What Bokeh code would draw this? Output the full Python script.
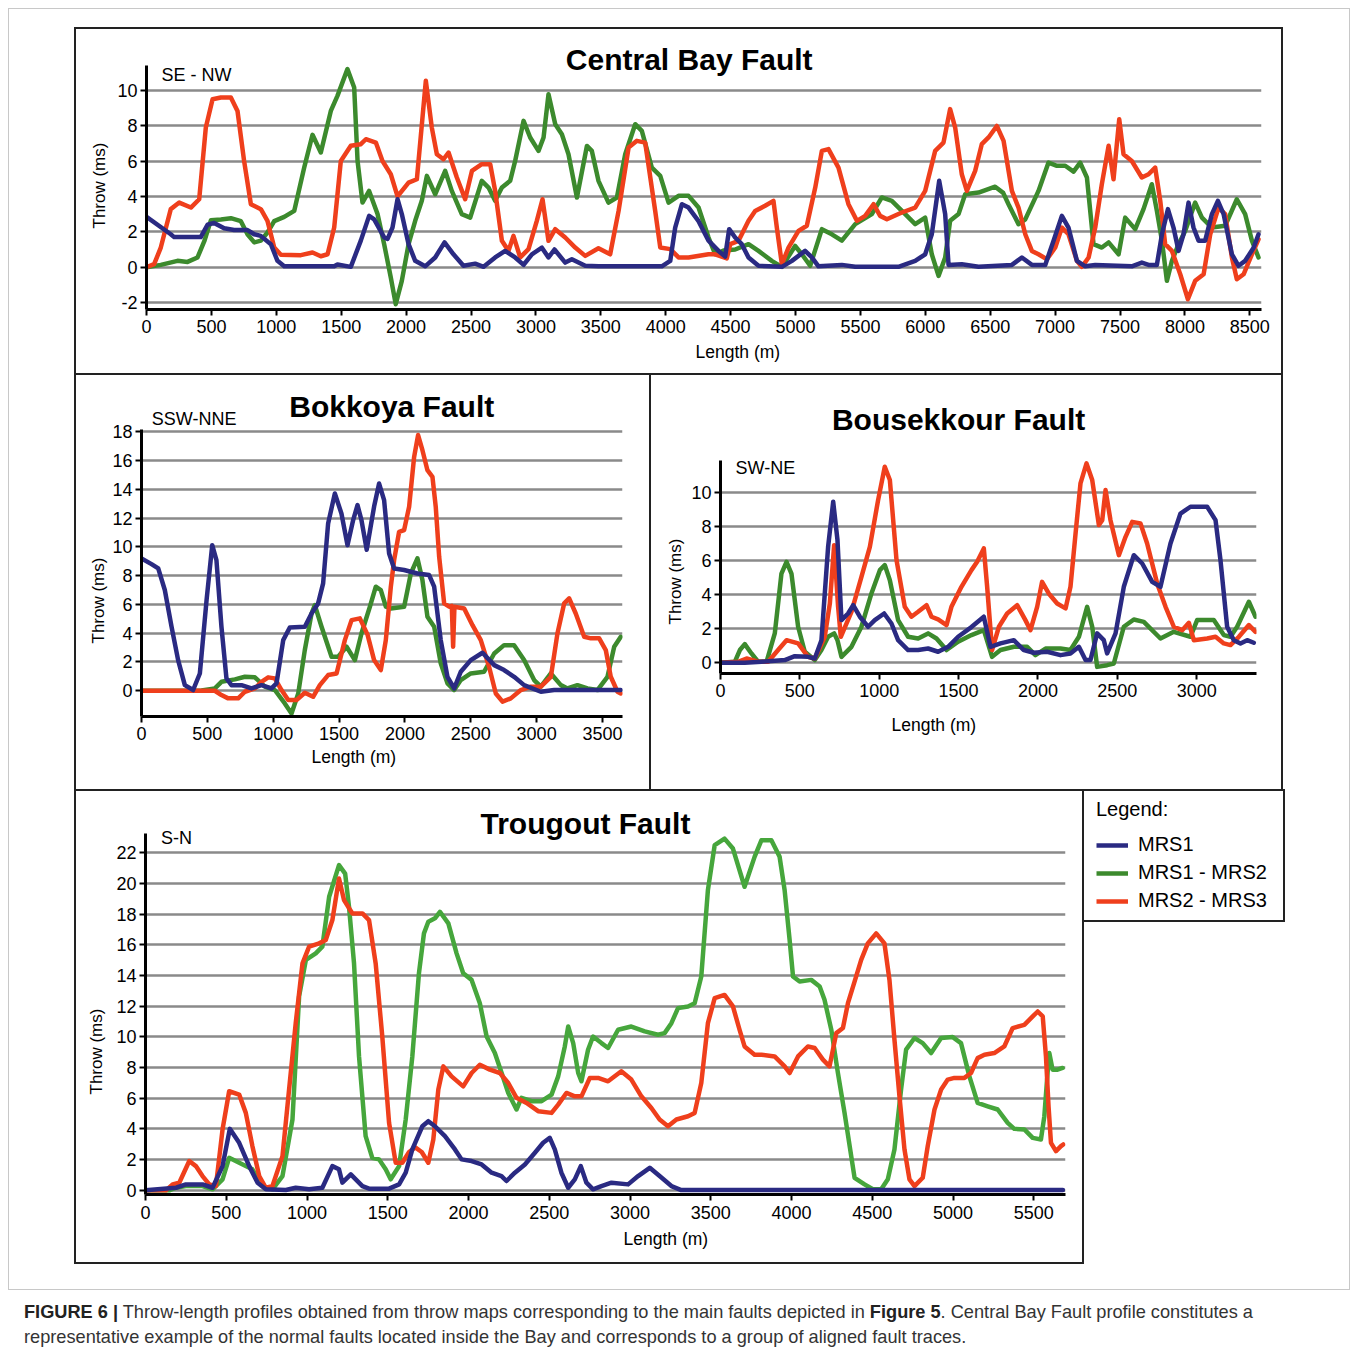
import math
from bokeh.plotting import figure
from bokeh.models import Range1d, Label, Legend, LegendItem, Spacer, Div, Title
from bokeh.layouts import column, row
from bokeh.embed import file_html
from bokeh.resources import INLINE

# ---------------- data ----------------
series_names = ["MRS1", "MRS1 - MRS2", "MRS2 - MRS3"]

# Central Bay Fault (SE - NW)
cb_mrs1_x = [0,187,213,418,470,521,598,675,778,830,880,958,1009,1061,1446,1471,1574,1651,1715,1754,1831,1857,1895,1934,1967,2019,2070,2147,2224,2296,2365,2442,2532,2597,2686,2763,2840,2905,2969,3046,3097,3143,3226,3277,3380,3482,3970,4035,4073,4125,4176,4253,4330,4407,4458,4489,4535,4586,4638,4715,4895,4972,5074,5126,5177,5357,5460,5793,5922,5999,6050,6107,6153,6179,6281,6410,6667,6744,6821,6924,6988,7052,7103,7168,7232,7309,7591,7668,7720,7784,7823,7869,7912,7951,7989,8028,8066,8105,8156,8208,8254,8298,8362,8413,8464,8529,8567]
cb_mrs1_y = [2.84,1.86,1.7,1.7,2.4,2.5,2.2,2.1,2.1,1.86,1.77,1.3,0.36,0.05,0.05,0.15,0.02,1.5,2.9,2.7,1.68,1.6,2.24,3.84,3.0,1.3,0.36,0.05,0.55,1.4,0.73,0.08,0.2,0.02,0.55,0.92,0.55,0.13,0.73,1.1,0.55,1.0,0.26,0.45,0.08,0.05,0.05,0.36,2.24,3.56,3.37,2.6,1.5,0.92,0.6,2.15,1.68,1.3,0.55,0.08,0.02,0.36,0.92,0.55,0.05,0.13,0.02,0.02,0.36,0.73,1.86,4.88,3.0,0.13,0.17,0.02,0.13,0.55,0.13,0.13,1.5,2.9,2.24,0.36,0.05,0.13,0.05,0.26,0.13,0.13,1.86,3.28,2.24,0.92,1.86,3.65,2.24,1.5,1.5,3.0,3.75,3.0,0.73,0.08,0.36,1.1,1.86]
cb_mrs12_x = [0,110,239,316,393,447,496,573,650,727,778,830,881,932,984,1061,1138,1215,1279,1343,1420,1471,1548,1600,1626,1664,1715,1780,1831,1882,1920,1967,2019,2070,2121,2160,2224,2301,2352,2429,2494,2583,2635,2686,2738,2802,2840,2905,2956,3020,3059,3097,3149,3200,3251,3316,3393,3431,3482,3559,3624,3688,3765,3816,3893,3958,4022,4099,4176,4253,4330,4381,4450,4535,4638,4715,4817,4895,4997,5049,5113,5203,5280,5357,5460,5588,5665,5742,5845,5922,5999,6050,6102,6153,6191,6256,6307,6410,6538,6600,6641,6718,6770,6872,6949,7014,7078,7142,7193,7245,7296,7360,7412,7489,7540,7617,7681,7745,7784,7823,7861,7900,7951,8002,8079,8131,8208,8310,8400,8464,8516,8567]
cb_mrs12_y = [0,0.13,0.36,0.3,0.55,1.5,2.65,2.7,2.77,2.6,1.86,1.4,1.5,1.96,2.6,2.84,3.18,5.63,7.48,6.48,8.83,9.68,11.19,10.15,6.0,3.65,4.31,3.0,1.3,-0.58,-2.09,-0.77,1.3,2.62,3.75,5.16,4.12,5.44,4.31,3.0,2.8,4.88,4.5,3.75,4.5,4.88,6.0,8.27,7.33,6.57,7.33,9.77,8.08,7.51,6.38,3.94,6.85,6.57,4.88,3.65,3.94,6.38,8.08,7.7,5.63,5.16,3.65,4.03,4.03,3.37,1.68,0.73,0.95,1.0,1.3,0.92,0.36,0.02,1.2,0.73,0.08,2.15,1.86,1.5,2.43,3.0,3.94,3.75,3.0,2.43,2.8,0.73,-0.49,0.55,2.62,3.0,4.12,4.22,4.55,4.2,3.56,2.43,2.7,4.31,5.91,5.73,5.73,5.4,5.91,5.07,1.3,1.11,1.4,0.73,2.8,2.15,3.28,4.69,3.18,1.5,-0.77,0.36,1.3,2.05,3.65,2.8,2.24,2.34,3.84,3.0,1.5,0.55]
cb_mrs23_x = [0,59,110,187,252,342,406,457,509,573,650,701,752,804,881,932,984,1035,1189,1279,1343,1395,1446,1497,1574,1651,1690,1767,1818,1882,1934,2019,2083,2152,2198,2237,2288,2327,2391,2455,2507,2583,2648,2686,2738,2789,2827,2879,2943,3007,3051,3097,3149,3226,3303,3380,3482,3572,3637,3714,3778,3842,3919,3958,4035,4099,4176,4330,4381,4471,4497,4561,4638,4689,4766,4830,4856,4895,4946,5023,5087,5152,5203,5254,5331,5408,5473,5537,5601,5652,5704,5819,5922,5999,6076,6140,6191,6230,6281,6320,6384,6435,6487,6551,6603,6667,6718,6770,6821,6872,6937,7001,7052,7103,7168,7206,7258,7309,7360,7412,7450,7468,7494,7527,7591,7668,7720,7771,7810,7848,7900,7964,8023,8079,8144,8195,8259,8310,8362,8400,8452,8516,8567]
cb_mrs23_y = [0,0.17,1.11,3.28,3.65,3.37,3.84,7.89,9.49,9.59,9.59,8.83,6.0,3.56,3.28,2.62,1.11,0.7,0.68,0.83,0.62,0.73,2.24,6.0,6.86,6.95,7.23,7.04,6.0,5.25,4.0,4.78,4.97,10.53,7.89,6.38,6.1,6.48,5.07,3.84,5.44,5.82,5.82,4.31,1.49,0.92,1.77,0.55,1.02,2.62,3.84,1.49,2.15,1.68,1.11,0.64,1.07,0.73,3.18,6.76,7.14,7.04,3.18,1.11,1.02,0.55,0.55,0.73,0.73,0.5,1.3,1.49,2.62,3.18,3.47,3.75,2.24,0.17,1.11,2.05,2.34,4.5,6.57,6.67,5.63,3.56,2.62,2.9,3.56,2.9,2.71,3.09,3.37,4.31,6.57,7.04,8.93,7.89,5.25,4.31,5.44,6.95,7.33,7.98,7.14,4.31,3.37,1.86,0.92,0.73,0.45,1.11,2.24,1.86,0.36,0.02,0.55,2.24,4.69,6.86,4.97,6.38,8.36,6.38,6.0,5.07,5.25,5.63,3.75,1.3,0.92,-0.4,-1.81,-0.77,-0.4,1.86,3.37,3.0,0.55,-0.68,-0.4,0.73,1.58]

# Bokkoya Fault (SSW-NNE)
bk_mrs1_x = [0,76,127,177,228,278,329,392,443,494,537,569,607,645,683,759,835,911,987,1025,1076,1126,1240,1291,1341,1379,1417,1468,1518,1564,1607,1640,1670,1710,1766,1804,1842,1880,1918,1994,2095,2184,2222,2272,2323,2374,2424,2500,2589,2678,2753,2829,2905,3032,3133,3639]
bk_mrs1_y = [9.2,8.8,8.5,7.0,4.45,2.13,0.39,0.05,1.2,6.3,10.12,9.08,4.45,0.86,0.39,0.39,0.16,0.39,0.16,0.51,3.52,4.4,4.45,5.37,6.07,7.46,11.63,13.71,12.32,10.12,11.86,12.9,11.86,9.8,12.8,14.4,13.25,9.54,8.5,8.39,8.15,8.04,7.23,3.52,0.97,0.16,1.32,2.13,2.64,1.78,1.44,0.97,0.39,-0.07,0.05,0.05]
bk_mrs12_x = [0,455,557,607,709,785,861,937,1012,1088,1139,1190,1240,1291,1316,1367,1443,1493,1557,1620,1670,1734,1779,1817,1855,1893,1994,2045,2095,2133,2171,2222,2272,2323,2374,2424,2500,2601,2678,2753,2829,2905,2981,3032,3108,3184,3234,3310,3386,3462,3538,3589,3639]
bk_mrs12_y = [0,0.02,0.16,0.62,0.79,0.97,0.93,0.28,0.05,-0.88,-1.58,-0.19,2.83,5.37,5.95,4.45,2.36,2.36,3.06,2.13,3.98,5.84,7.23,7.0,5.84,5.72,5.84,8.15,9.2,7.69,5.14,4.45,1.9,0.51,0.05,0.74,1.2,1.32,2.59,3.17,3.17,2.13,0.74,0.28,1.2,0.39,0.16,0.39,0.16,0.05,0.97,3.06,3.75]
bk_mrs23_x = [0,557,607,658,734,785,861,911,962,1012,1063,1114,1177,1240,1303,1354,1417,1481,1544,1595,1658,1716,1766,1817,1855,1893,1918,1956,1994,2032,2070,2100,2133,2171,2209,2234,2260,2298,2336,2356,2366,2376,2450,2513,2576,2639,2690,2741,2804,2880,2956,3032,3108,3158,3209,3247,3297,3361,3412,3475,3525,3563,3614,3639]
bk_mrs23_y = [0,0,-0.3,-0.53,-0.53,-0.07,0.16,0.62,0.93,0.86,0.05,-0.65,-0.65,-0.14,-0.42,0.39,1.09,1.2,3.52,4.91,5.03,3.9,2.13,1.44,3.52,7.23,9.08,11.05,11.17,12.79,16.26,17.77,16.72,15.33,14.87,12.79,9.31,6.07,5.84,5.9,3.06,5.84,5.72,4.56,3.52,1.67,-0.19,-0.76,-0.53,0.05,0.28,0.28,0.97,3.98,6.07,6.42,5.37,3.75,3.64,3.64,2.83,0.97,-0.07,-0.19]

# Bousekkour Fault (SW-NE)
bs_mrs1_x = [0,153,258,405,468,552,594,636,678,710,737,762,804,836,878,930,972,1031,1077,1119,1182,1245,1308,1371,1434,1497,1581,1659,1701,1764,1848,1911,1974,2058,2142,2205,2258,2300,2331,2373,2415,2436,2489,2541,2604,2657,2720,2772,2835,2898,2961,3066,3119,3150,3192,3234,3276,3318,3360]
bs_mrs1_y = [0,0,0.06,0.16,0.39,0.35,0.25,1.33,6.82,9.47,7.22,2.51,2.9,3.39,2.71,2.12,2.51,2.9,2.31,1.33,0.75,0.75,0.84,0.65,0.94,1.53,2.1,2.71,0.94,1.14,1.33,0.75,0.59,0.65,0.45,0.55,0.94,0.16,0.16,1.73,1.33,0.55,1.73,4.47,6.33,5.84,4.76,4.47,7.02,8.78,9.18,9.18,8.39,6.04,2.12,1.33,1.14,1.33,1.18]
bs_mrs12_x = [0,90,122,153,195,237,290,342,384,416,447,489,531,594,636,678,716,737,762,825,888,951,1004,1035,1067,1119,1182,1245,1308,1361,1424,1497,1581,1659,1711,1764,1848,1932,1984,2048,2142,2205,2258,2310,2342,2373,2436,2478,2541,2604,2667,2772,2856,2961,3003,3108,3171,3213,3255,3329,3371]
bs_mrs12_y = [0,0.06,0.75,1.1,0.55,0.06,0.06,1.73,5.25,5.94,5.25,2.12,0.65,0.16,0.75,1.53,1.73,1.33,0.35,0.94,2.12,4.08,5.45,5.75,4.86,2.51,1.53,1.43,1.73,1.43,0.75,1.24,1.63,1.92,0.35,0.75,0.94,0.94,0.45,0.84,0.84,0.75,1.53,3.29,2.12,-0.24,-0.14,-0.04,2.12,2.55,2.41,1.43,1.82,1.53,2.51,2.51,1.63,1.53,2.12,3.59,2.71]
bs_mrs23_x = [0,111,164,237,300,363,416,489,552,594,657,689,716,741,758,825,888,941,993,1035,1067,1109,1161,1203,1245,1298,1329,1371,1424,1455,1518,1581,1617,1659,1680,1711,1754,1806,1869,1921,1953,1995,2026,2068,2121,2174,2205,2237,2268,2306,2342,2384,2405,2426,2457,2510,2552,2594,2646,2688,2751,2804,2856,2909,2951,2982,3066,3119,3171,3213,3266,3329,3371]
bs_mrs23_y = [0,0.06,0.25,0.06,0.06,0.75,1.33,1.14,0.35,0.25,1.53,3.49,6.92,3.29,1.53,3.0,5.06,6.82,9.57,11.53,10.75,6.04,3.29,2.71,3.0,3.39,2.71,2.55,2.22,3.29,4.47,5.45,5.94,6.73,4.47,0.75,2.12,2.9,3.39,2.51,1.92,3.29,4.76,4.08,3.49,3.2,4.47,7.61,10.55,11.73,10.75,8.1,8.39,10.16,8.39,6.33,7.41,8.29,8.2,7.02,4.67,3.29,2.12,1.92,2.35,1.33,1.43,1.53,1.14,1.04,1.53,2.22,1.82]

# Trougout Fault (S-N)
tg_mrs1_x = [0,189,250,353,415,477,522,580,642,694,745,869,930,1013,1095,1157,1198,1219,1271,1343,1384,1508,1570,1611,1652,1714,1751,1792,1854,1916,1957,2019,2081,2143,2204,2235,2287,2349,2411,2462,2503,2534,2575,2617,2658,2695,2730,2771,2823,2885,2988,3050,3122,3183,3256,3317,5680]
tg_mrs1_y = [0,0.17,0.39,0.39,0.17,1.58,4.01,3.1,1.58,0.5,0.07,0.02,0.17,0.07,0.17,1.58,1.37,0.5,1.04,0.28,0.11,0.11,0.39,1.15,2.67,4.18,4.51,4.18,3.53,2.67,2.02,1.91,1.69,1.15,0.93,0.61,1.15,1.69,2.45,3.1,3.42,2.67,1.15,0.17,0.72,1.58,0.5,0.07,0.28,0.5,0.39,0.93,1.47,0.93,0.28,0.02,0.02]
tg_mrs12_x = [0,147,189,250,353,415,477,518,580,662,725,786,848,910,951,993,1054,1095,1137,1198,1236,1260,1291,1322,1363,1404,1446,1487,1518,1570,1611,1652,1693,1724,1751,1792,1823,1875,1926,1967,2019,2070,2112,2163,2205,2246,2297,2328,2390,2452,2514,2555,2596,2617,2648,2679,2699,2740,2771,2823,2864,2926,3008,3091,3173,3214,3256,3297,3359,3400,3441,3482,3524,3585,3637,3709,3771,3813,3875,3926,3957,3988,4009,4050,4122,4174,4204,4246,4287,4328,4390,4452,4503,4555,4596,4637,4678,4709,4761,4812,4864,4926,4998,5049,5101,5152,5214,5276,5338,5379,5441,5493,5544,5565,5585,5596,5616,5647,5678]
tg_mrs12_y = [0,0,0.17,0.28,0.28,0.07,0.72,2.12,1.8,1.37,0.28,0.07,0.93,4.62,12.64,15.02,15.45,15.89,19.14,21.2,20.65,18.49,14.8,8.73,3.53,2.12,2.02,1.37,0.72,1.58,4.62,8.73,14.15,16.75,17.51,17.73,18.16,17.4,15.45,14.15,13.72,12.2,10.03,8.95,7.65,6.35,5.27,6.03,5.81,5.81,6.24,7.43,9.38,10.68,9.6,7.65,7.11,9.17,10.03,9.6,9.28,10.47,10.68,10.36,10.14,10.25,10.9,11.88,11.99,12.2,13.94,19.57,22.5,22.93,22.28,19.79,21.74,22.82,22.82,21.74,19.57,16.32,13.94,13.61,13.72,13.29,12.42,10.47,7.65,5.05,0.82,0.39,0.07,0.07,0.72,2.67,6.57,9.17,9.93,9.6,8.95,9.93,9.99,9.6,7.43,5.7,5.48,5.27,4.4,4.01,3.97,3.42,3.32,4.83,7.65,8.95,7.87,7.87,7.98]
tg_mrs23_x = [0,127,168,209,271,312,353,395,436,477,518,580,621,662,704,745,786,848,889,930,972,1013,1075,1116,1157,1198,1229,1281,1343,1384,1425,1466,1508,1549,1590,1632,1670,1710,1751,1782,1813,1844,1895,1967,2019,2070,2132,2194,2246,2297,2359,2431,2514,2555,2606,2658,2699,2751,2802,2864,2946,3008,3070,3132,3183,3235,3287,3359,3400,3441,3482,3524,3585,3637,3678,3709,3771,3813,3895,3957,3988,4040,4101,4143,4194,4235,4277,4318,4349,4390,4431,4472,4524,4575,4606,4637,4668,4699,4730,4761,4812,4843,4885,4926,4967,5008,5070,5111,5152,5194,5255,5317,5369,5441,5493,5524,5555,5575,5591,5606,5637,5668,5682]
tg_mrs23_y = [0,0,0.39,0.5,1.91,1.58,0.93,0.39,0.28,3.97,6.46,6.24,5.05,2.88,0.93,0.17,0.28,2.23,6.57,10.9,14.8,15.89,16.1,16.32,17.62,20.33,18.92,18.05,18.05,17.62,14.8,10.03,4.4,1.8,1.8,2.5,2.8,2.5,1.8,3.32,6.57,8.08,7.43,6.78,7.65,8.19,7.87,7.65,7.0,6.03,5.7,5.16,5.05,5.59,6.35,6.13,6.13,7.33,7.33,7.11,7.76,7.22,6.13,5.37,4.62,4.18,4.62,4.83,5.05,7.0,10.9,12.53,12.74,11.99,10.47,9.38,8.84,8.84,8.73,8.08,7.65,8.73,9.38,9.28,8.52,8.08,10.25,10.58,12.2,13.61,15.02,16.1,16.75,16.1,13.72,9.82,6.13,2.67,0.72,0.28,0.82,2.88,5.27,6.57,7.22,7.33,7.33,7.65,8.62,8.84,8.95,9.38,10.58,10.79,11.34,11.66,11.34,8.73,5.48,3.1,2.56,2.88,2.99]

cb_ticks_x = list(range(0, 8501, 500)); cb_ticks_y = list(range(-2, 11, 2))
bk_ticks_x = list(range(0, 3501, 500)); bk_ticks_y = list(range(0, 19, 2))
bs_ticks_x = list(range(0, 3001, 500)); bs_ticks_y = list(range(0, 11, 2))
tg_ticks_x = list(range(0, 5501, 500)); tg_ticks_y = list(range(0, 23, 2))

# ---------------- style ----------------
BLUE = "#2a2a82"
GREEN = "#3c8a2d"
GREEN_T = "#46a63c"
RED = "#ef3f1c"
SANS = "Liberation Sans"
DARK = "#222222"
GRAY = "#c8c8c8"


def panel(W, H, left, right, bottom, xr, yr, ytop, xt, yt, xstand=4):
    p = figure(width=W, height=H, x_range=Range1d(*xr), y_range=Range1d(*yr),
               output_backend="svg", toolbar_location=None, title=None,
               min_border_left=left, min_border_right=right,
               min_border_top=0, min_border_bottom=bottom,
               outline_line_color=None)
    p.xgrid.grid_line_color = None
    p.ygrid.grid_line_color = "#8a8a8a"
    p.ygrid.grid_line_width = 2.5
    p.xaxis.ticker = xt
    p.yaxis.ticker = yt
    p.yaxis.bounds = (yr[0], ytop)
    p.yaxis.major_label_overrides = {t: str(t) for t in yt}
    for ax in p.axis:
        ax.axis_line_width = 3
        ax.axis_line_color = "black"
        ax.major_tick_line_width = 2
        ax.major_tick_out = 6
        ax.major_tick_in = 0
        ax.minor_tick_line_color = None
        ax.major_label_text_font = SANS
        ax.major_label_text_font_size = "18px"
        ax.major_label_text_color = "black"
    p.xaxis.major_label_standoff = xstand
    p.yaxis.major_label_standoff = 3
    return p


def add_lines(p, xs, ys, colors):
    for x, y, c in zip(xs, ys, colors):
        p.line(x, y, line_color=c, line_width=4.5, line_join="round", line_cap="round")


def add_texts(p, title, tx, ty, direction, dx, dy, y_off, y_so, x_off, x_so):
    p.add_layout(Label(x=tx, y=ty, text=title, text_font=SANS, text_font_style="bold",
                       text_font_size="30px", text_color="black",
                       text_align="center", text_baseline="middle"))
    p.add_layout(Label(x=dx, y=dy, text=direction, text_font=SANS, text_font_size="18px",
                       text_color="black", text_align="left", text_baseline="middle"))
    p.add_layout(Title(text="Throw (ms)", align="left", offset=y_off, vertical_align="bottom",
                       text_font=SANS, text_font_size="17px", text_font_style="normal",
                       text_color="black", standoff=y_so), "left")
    p.add_layout(Title(text="Length (m)", align="left", offset=x_off, vertical_align="top",
                       text_font=SANS, text_font_size="17.5px", text_font_style="normal",
                       text_color="black", standoff=x_so), "below")


# Central Bay (fig x 76..1281, y 29..373)
cb = panel(1205, 344, 70, 20, 64, (0, 8590), (-2.39, 13.43), 11.38, cb_ticks_x, cb_ticks_y)
add_lines(cb, [cb_mrs12_x, cb_mrs23_x, cb_mrs1_x], [cb_mrs12_y, cb_mrs23_y, cb_mrs1_y], [GREEN, RED, BLUE])
add_texts(cb, "Central Bay Fault", 4181, 11.75, "SE - NW", 115, 10.84, 81, 12, 549, 12)

# Bokkoya (fig x 76..649, y 375..789)
bk = panel(573, 414, 65, 27, 73, (0, 3652), (-1.79, 21.91), 18.13, bk_ticks_x, bk_ticks_y)
add_lines(bk, [bk_mrs12_x, bk_mrs23_x, bk_mrs1_x], [bk_mrs12_y, bk_mrs23_y, bk_mrs1_y], [GREEN, RED, BLUE])
add_texts(bk, "Bokkoya Fault", 1900, 19.78, "SSW-NNE", 78, 18.9, 73, 4, 170, 8)

# Bousekkour (fig x 651..1281, y 375..789)
bs = panel(630, 414, 69, 25, 116, (0, 3377), (-0.63, 16.9), 11.88, bs_ticks_x, bs_ticks_y)
add_lines(bs, [bs_mrs12_x, bs_mrs23_x, bs_mrs1_x], [bs_mrs12_y, bs_mrs23_y, bs_mrs1_y], [GREEN, RED, BLUE])
add_texts(bs, "Bousekkour Fault", 1500, 14.32, "SW-NE", 95, 11.48, 49, 8, 171, 30)

# Trougout (fig x 76..1082, y 791..1262)
tg = panel(1006, 471, 68, 17, 68, (0, 5696), (-0.27, 26.0), 23.26, tg_ticks_x, tg_ticks_y, xstand=5)
add_lines(tg, [tg_mrs12_x, tg_mrs23_x, tg_mrs1_x], [tg_mrs12_y, tg_mrs23_y, tg_mrs1_y], [GREEN_T, RED, BLUE])
add_texts(tg, "Trougout Fault", 2724, 23.91, "S-N", 96, 22.98, 100, 16, 478, 15)

# Legend box (fig x 1084..1283, y 791..920)
lg = figure(width=199, height=129, x_range=Range1d(0, 1), y_range=Range1d(0, 1),
            output_backend="svg", toolbar_location=None, title=None, min_border=0,
            x_axis_location=None, y_axis_location=None, outline_line_color=None)
lg.grid.visible = False
rs = [lg.line(x, y, line_color=c, line_width=4.5, visible=False)
      for x, y, c in [(tg_mrs1_x, tg_mrs1_y, BLUE), (tg_mrs12_x, tg_mrs12_y, GREEN),
                      (tg_mrs23_x, tg_mrs23_y, RED)]]
legend = Legend(items=[LegendItem(label=n, renderers=[r]) for n, r in zip(series_names, rs)],
                location=(12, 8), title="Legend:", title_text_font=SANS,
                title_text_font_style="normal", title_text_font_size="20px",
                title_text_color="black", title_standoff=12,
                label_text_font=SANS, label_text_font_size="20px", label_text_color="black",
                label_standoff=10, glyph_width=32, glyph_height=20, label_height=20,
                spacing=5, padding=0, margin=0, border_line_color=None,
                background_fill_alpha=0, inactive_fill_alpha=0)
lg.add_layout(legend)


def hline(w, t, c):
    return Spacer(width=w, height=t, styles={"background-color": c})


def vline(h, t, c):
    return Spacer(width=t, height=h, styles={"background-color": c})


group = column(
    hline(1209, 2, DARK),
    row(vline(344, 2, DARK), column(cb), vline(344, 2, DARK)),
    hline(1209, 2, DARK),
    row(vline(414, 2, DARK), column(bk), vline(414, 2, DARK), column(bs), vline(414, 2, DARK)),
    hline(1211, 2, DARK),
    row(vline(471, 2, DARK), column(tg), vline(471, 2, DARK),
        column(row(lg, vline(129, 2, DARK)), hline(201, 2, DARK))),
    hline(1010, 2, DARK),
)

inner = column(
    Spacer(width=1340, height=18),
    row(Spacer(width=65, height=10), group),
    Spacer(width=1340, height=25),
)
box = column(
    hline(1342, 1, GRAY),
    row(vline(1280, 1, GRAY), inner, vline(1280, 1, GRAY)),
    hline(1342, 1, GRAY),
)

caption = Div(text=(
    '<div style="font-family:\'Liberation Sans\',Arial,sans-serif;font-size:18.2px;line-height:25px;'
    'color:#333;padding-left:11px;white-space:nowrap">'
    '<b style="color:#222">FIGURE 6 |</b> Throw-length profiles obtained from throw maps corresponding '
    'to the main faults depicted in <b style="color:#222">Figure 5</b>. Central Bay Fault profile constitutes a<br>'
    'representative example of the normal faults located inside the Bay and corresponds to a group of aligned fault traces.'
    '</div>'), width=1342, height=45)

page = column(
    Spacer(width=1350, height=8),
    row(Spacer(width=8, height=10), column(box, Spacer(width=1342, height=5), caption)),
)

open("out.html", "w").write(file_html(page, INLINE))
